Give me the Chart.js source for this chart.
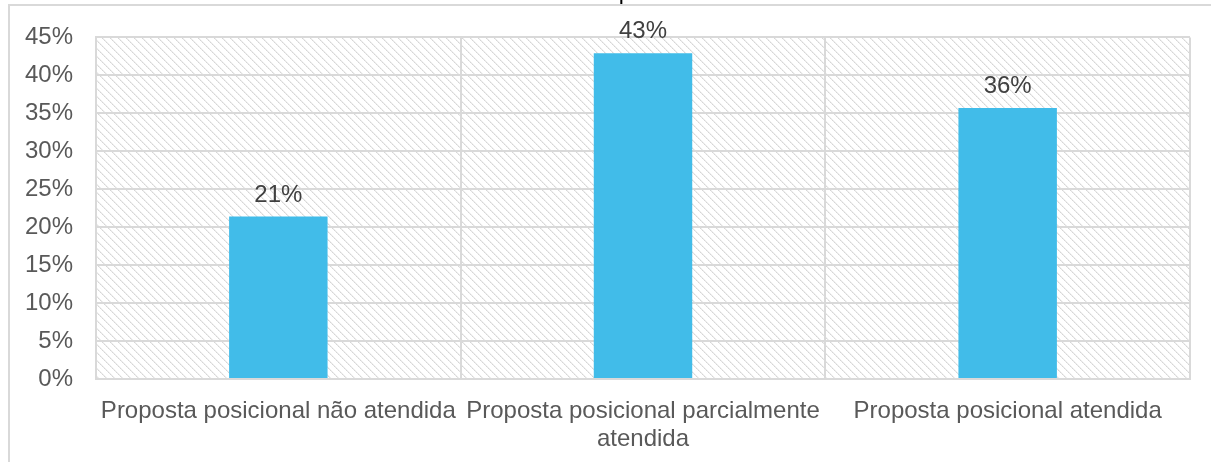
<!DOCTYPE html>
<html>
<head>
<meta charset="utf-8">
<script src="https://cdn.jsdelivr.net/npm/chart.js@4/dist/chart.umd.min.js"></script>
<style>
  html, body { margin: 0; padding: 0; background: #ffffff; }
  #wrap { width: 1211px; height: 462px; position: relative; }
</style>
</head>
<body>
<div id="wrap"><canvas id="c" width="1211" height="462"></canvas></div>
<script>
const categories = [
  ["Proposta posicional não atendida"],
  ["Proposta posicional parcialmente", "atendida"],
  ["Proposta posicional atendida"]
];
const values = [21.4, 42.9, 35.7];
const valueLabels = ["21%", "43%", "36%"];
const yTicks = [0, 5, 10, 15, 20, 25, 30, 35, 40, 45];
const titleText = "Proposta";

const FONT = "'Liberation Sans', Arial, sans-serif";

function makeHatch() {
  const c = document.createElement('canvas');
  c.width = 8; c.height = 8;
  const g = c.getContext('2d');
  g.fillStyle = '#ffffff';
  g.fillRect(0, 0, 8, 8);
  for (let y = 0; y < 8; y++) {
    for (let x = 0; x < 8; x++) {
      const d = ((x - y) % 8 + 8) % 8;
      if (d === 0) { g.fillStyle = (y % 2 === 0) ? '#d6d6d6' : '#e2e2e2'; g.fillRect(x, y, 1, 1); }
      else if (d === 1) { g.fillStyle = '#efefef'; g.fillRect(x, y, 1, 1); }
    }
  }
  return c;
}

const bgPlugin = {
  id: 'bg',
  beforeDraw(chart) {
    const ctx = chart.ctx;
    const a = chart.chartArea;
    ctx.save();
    ctx.strokeStyle = '#d9d9d9';
    ctx.lineWidth = 2;
    ctx.beginPath();
    ctx.moveTo(9, 470);
    ctx.lineTo(9, 5);
    ctx.lineTo(1220, 5);
    ctx.stroke();
    ctx.fillStyle = ctx.createPattern(makeHatch(), 'repeat');
    ctx.fillRect(a.left, a.top, a.right - a.left, a.bottom - a.top);
    ctx.fillStyle = '#000000';
    ctx.font = "23px " + FONT;
    ctx.textAlign = 'left';
    ctx.textBaseline = 'alphabetic';
    ctx.fillText(titleText, 583, -1.5);
    ctx.restore();
  }
};

const labelPlugin = {
  id: 'vlabels',
  afterDatasetsDraw(chart) {
    const ctx = chart.ctx;
    const meta = chart.getDatasetMeta(0);
    ctx.save();
    ctx.fillStyle = '#404040';
    ctx.font = "24px " + FONT;
    ctx.textAlign = 'center';
    ctx.textBaseline = 'alphabetic';
    meta.data.forEach((bar, i) => {
      ctx.fillText(valueLabels[i], bar.x, bar.y - 15);
    });
    ctx.restore();
  }
};

new Chart(document.getElementById('c'), {
  type: 'bar',
  data: {
    labels: categories,
    datasets: [{
      data: values,
      backgroundColor: '#41BCE9',
      borderWidth: 0,
      barPercentage: 0.27,
      categoryPercentage: 1.0
    }]
  },
  options: {
    responsive: false,
    animation: false,
    devicePixelRatio: 1,
    layout: { padding: { left: 0, top: 37, right: 21, bottom: 0 } },
    plugins: {
      legend: { display: false },
      tooltip: { enabled: false },
      title: { display: false }
    },
    scales: {
      x: {
        offset: true,
        grid: { display: true, offset: true, color: '#d9d9d9', lineWidth: 2, drawTicks: false },
        border: { display: true, color: '#d9d9d9', width: 2 },
        ticks: {
          color: '#595959',
          font: { family: FONT, size: 24, lineHeight: 1.15 },
          padding: 19,
          maxRotation: 0,
          minRotation: 0,
          autoSkip: false
        },
        afterFit(scale) { scale.height = 83; }
      },
      y: {
        min: 0,
        max: 45,
        afterBuildTicks(scale) { scale.ticks = yTicks.map(v => ({ value: v })); },
        grid: { color: '#d9d9d9', lineWidth: 2, drawTicks: false },
        border: { display: true, color: '#d9d9d9', width: 2 },
        ticks: {
          color: '#595959',
          font: { family: FONT, size: 24 },
          padding: 23,
          callback: v => v + '%'
        },
        afterFit(scale) { scale.width = 96; }
      }
    }
  },
  plugins: [bgPlugin, labelPlugin]
});
</script>
</body>
</html>
